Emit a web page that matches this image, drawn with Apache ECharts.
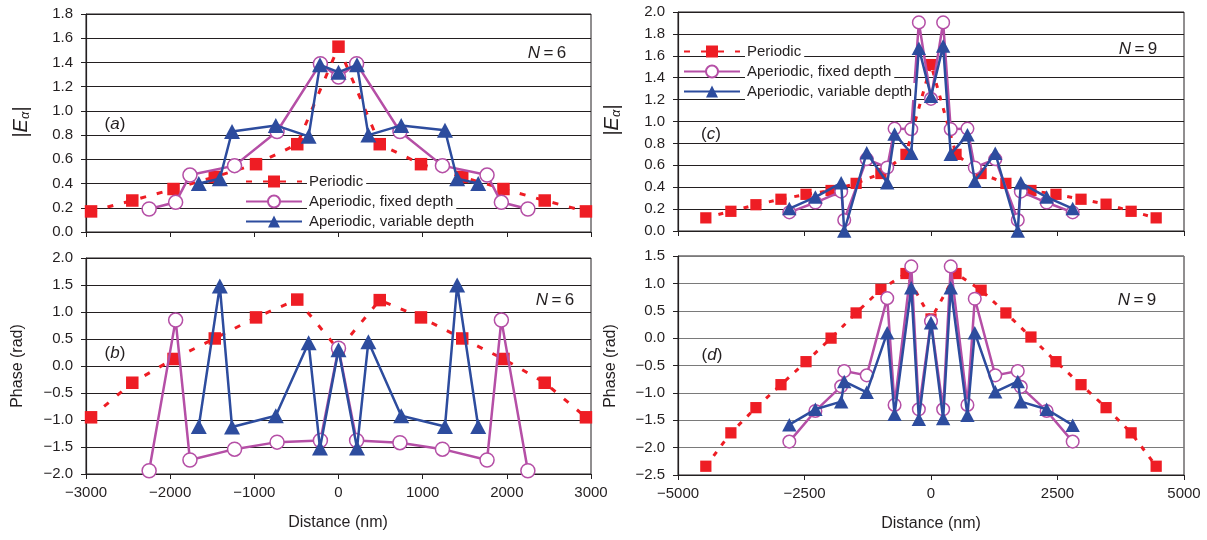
<!DOCTYPE html>
<html>
<head>
<meta charset="utf-8">
<script src="https://cdn.jsdelivr.net/npm/echarts@6/dist/echarts.min.js"></script>
<style>html,body{margin:0;padding:0;background:#fff}#c{width:1207px;height:540px}</style>
</head>
<body>
<div id="c"></div>
<script>
// ---------- DATA ----------
const seriesNames = ['Periodic', 'Aperiodic, fixed depth', 'Aperiodic, variable depth'];

// N = 6
const periodicX6 = [-2940, -2450, -1960, -1470, -980, -490, 0, 490, 980, 1470, 1960, 2450, 2940];
const periodicAmp6 = [0.17, 0.26, 0.355, 0.455, 0.56, 0.725, 1.53, 0.725, 0.56, 0.455, 0.355, 0.26, 0.17];
const periodicPhase6 = [-0.95, -0.31, 0.13, 0.51, 0.90, 1.23, 0.30, 1.22, 0.90, 0.51, 0.13, -0.31, -0.95];

const fixedX6 = [-2250, -1935, -1765, -1235, -730, -215, 0, 215, 730, 1235, 1765, 1935, 2250];
const fixedAmp6 = [0.19, 0.245, 0.47, 0.548, 0.83, 1.39, 1.28, 1.39, 0.83, 0.548, 0.47, 0.245, 0.19];
const fixedPhase6 = [-1.94, 0.85, -1.74, -1.54, -1.41, -1.38, 0.33, -1.38, -1.42, -1.54, -1.74, 0.85, -1.94];

const varX6 = [-1660, -1410, -1265, -745, -355, -220, 0, 220, 355, 745, 1265, 1410, 1660];
const varAmp6 = [0.40, 0.44, 0.83, 0.88, 0.79, 1.38, 1.32, 1.38, 0.80, 0.88, 0.84, 0.44, 0.40];
const varPhase6 = [-1.12, 1.48, -1.13, -0.92, 0.43, -1.52, 0.30, -1.52, 0.45, -0.92, -1.12, 1.50, -1.12];

// N = 9
const periodicX9 = [-4450, -3955, -3460, -2965, -2470, -1975, -1480, -990, -495, 0, 495, 990, 1480, 1975, 2470, 2965, 3460, 3955, 4450];
const periodicAmp9 = [0.12, 0.18, 0.24, 0.29, 0.335, 0.37, 0.435, 0.525, 0.70, 1.52, 0.70, 0.525, 0.435, 0.37, 0.335, 0.29, 0.245, 0.18, 0.12];
const periodicPhase9 = [-2.34, -1.73, -1.27, -0.85, -0.43, 0.0, 0.46, 0.89, 1.18, 0.35, 1.18, 0.875, 0.46, 0.02, -0.43, -0.85, -1.27, -1.73, -2.34];

const fixedX9 = [-2800, -2285, -1775, -1715, -1270, -865, -720, -390, -240, 0, 240, 390, 720, 865, 1270, 1715, 1775, 2285, 2800];
const fixedAmp9 = [0.17, 0.26, 0.36, 0.10, 0.656, 0.58, 0.935, 0.93, 1.905, 1.207, 1.905, 0.93, 0.935, 0.58, 0.656, 0.10, 0.36, 0.26, 0.17];
const fixedPhase9 = [-1.89, -1.33, -0.88, -0.60, -0.68, 0.73, -1.22, 1.31, -1.30, 0.31, -1.30, 1.31, -1.22, 0.72, -0.68, -0.60, -0.89, -1.33, -1.89];

const varX9 = [-2800, -2285, -1775, -1715, -1270, -865, -720, -390, -240, 0, 240, 390, 720, 865, 1270, 1715, 1775, 2285, 2800];
const varAmp9 = [0.205, 0.31, 0.44, 0.0, 0.715, 0.44, 0.885, 0.71, 1.67, 1.23, 1.69, 0.70, 0.88, 0.455, 0.71, 0.0, 0.44, 0.31, 0.205];
const varPhase9 = [-1.58, -1.30, -1.16, -0.79, -0.99, 0.10, -1.39, 0.92, -1.48, 0.28, -1.47, 0.92, -1.41, 0.10, -0.98, -0.79, -1.16, -1.30, -1.59];

// axis ranges / tick labels
const xRange6 = {min: -3000, max: 3000, interval: 1000};
const xRange9 = {min: -5000, max: 5000, interval: 2500};
const yRangeA = {min: 0, max: 1.8, interval: 0.2};
const yRangeB = {min: -2, max: 2, interval: 0.5};
const yRangeC = {min: 0, max: 2, interval: 0.2};
const yRangeD = {min: -2.5, max: 1.5, interval: 0.5};

// ---------- BUILD ----------
const FONT = '"Liberation Sans", Arial, Helvetica, sans-serif';
const RED = '#ee1d24', PINK = '#b54fa6', BLUE = '#2d4c9e', INK = '#231f20';
const minus = s => String(s).replace(/-/g, '\u2212');
const pairs = (xs, ys) => xs.map((x, i) => [x, ys[i]]);

const grids = [
  {left: 86, top: 14, width: 505, height: 218},
  {left: 86, top: 258, width: 505, height: 216},
  {left: 678, top: 12, width: 506, height: 219},
  {left: 678, top: 256, width: 506, height: 219}
].map(g => Object.assign({show: true, borderColor: INK, borderWidth: 1, backgroundColor: 'transparent'}, g));

function xAxis(idx, r, labels) {
  return {
    type: 'value', gridIndex: idx, min: r.min, max: r.max, interval: r.interval,
    axisLine: {show: true, onZero: false, lineStyle: {color: INK, width: 1.2}},
    axisTick: {show: true, inside: false, length: 5, lineStyle: {color: INK}},
    axisLabel: {show: labels, margin: 11, fontSize: 15, color: INK, fontFamily: FONT, formatter: v => minus(v)},
    splitLine: {show: false}
  };
}
function yAxis(idx, r, gridColor) {
  return {
    type: 'value', gridIndex: idx, min: r.min, max: r.max, interval: r.interval,
    axisLine: {show: true, onZero: false, lineStyle: {color: INK, width: 1.2}},
    axisTick: {show: true, inside: false, length: 5, lineStyle: {color: INK}},
    axisLabel: {show: true, margin: 13, fontSize: 15, color: INK, fontFamily: FONT, formatter: v => minus(v.toFixed(1))},
    splitLine: {show: true, lineStyle: {color: gridColor, width: 1}}
  };
}

function makeSeries(idx, big, pX, pY, fX, fY, vX, vY) {
  const k = big ? 1 : 0.9;
  return [
    {
      name: seriesNames[0], type: 'line', xAxisIndex: idx, yAxisIndex: idx,
      data: pairs(pX, pY), symbol: 'rect', symbolSize: 12.5 * k,
      itemStyle: {color: RED},
      lineStyle: {color: RED, width: 3, type: big ? [6, 11] : [5, 8]},
      z: 2
    },
    {
      name: seriesNames[1], type: 'line', xAxisIndex: idx, yAxisIndex: idx,
      data: pairs(fX, fY), symbol: 'circle', symbolSize: 14 * k,
      itemStyle: {color: '#fff', borderColor: PINK, borderWidth: 1.5},
      lineStyle: {color: PINK, width: 2.5},
      z: 3
    },
    {
      name: seriesNames[2], type: 'line', xAxisIndex: idx, yAxisIndex: idx,
      data: pairs(vX, vY), symbol: 'triangle', symbolSize: [16 * k, 15 * k],
      itemStyle: {color: BLUE},
      lineStyle: {color: BLUE, width: 2.5},
      z: 4
    }
  ];
}

const series = [].concat(
  makeSeries(0, true, periodicX6, periodicAmp6, fixedX6, fixedAmp6, varX6, varAmp6),
  makeSeries(1, true, periodicX6, periodicPhase6, fixedX6, fixedPhase6, varX6, varPhase6),
  makeSeries(2, false, periodicX9, periodicAmp9, fixedX9, fixedAmp9, varX9, varAmp9),
  makeSeries(3, false, periodicX9, periodicPhase9, fixedX9, fixedPhase9, varX9, varPhase9)
).map(s => Object.assign(s, {animation: false, silent: true, showAllSymbol: true}));

function legend(left, top) {
  return {
    orient: 'vertical', left: left, top: top, padding: 0, itemGap: 3, itemWidth: 56, itemHeight: 15,
    data: seriesNames, selectedMode: false,
    textStyle: {fontSize: 15, color: INK, fontFamily: FONT, backgroundColor: '#fff', padding: [1, 3, 1, 2]}
  };
}

const italicRich = {
  i: {fontStyle: 'italic', fontSize: 17, fontFamily: FONT, fill: INK, color: INK},
  n: {fontSize: 17, fontFamily: FONT, fill: INK, color: INK}
};
function txt(x, y, text, opts) {
  return {
    type: 'text', x: x, y: y, silent: true, z: 50,
    style: Object.assign({text: text, font: '16px ' + FONT, fill: INK, align: 'center', verticalAlign: 'middle', rich: italicRich}, opts || {})
  };
}
const ampRich = {
  b: {fontSize: 20, fontFamily: FONT, color: INK, fill: INK},
  e: {fontSize: 20, fontStyle: 'italic', fontFamily: FONT, color: INK, fill: INK},
  s: {fontSize: 13, fontStyle: 'italic', fontFamily: FONT, color: INK, fill: INK, verticalAlign: 'bottom', padding: [8, 0, 0, 0]}
};
function rotated(x, y, text, rich, size) {
  return {
    type: 'text', x: x, y: y, rotation: Math.PI / 2, silent: true, z: 50,
    style: {text: text, rich: rich, font: size + 'px ' + FONT, fill: INK, align: 'center', verticalAlign: 'middle'}
  };
}

const graphic = [
  rotated(21, 122, '{b||}{e|E}{s|α}{b||}', ampRich, 20),
  rotated(612, 120, '{b||}{e|E}{s|α}{b||}', ampRich, 20),
  rotated(18, 366, 'Phase (rad)', null, 16),
  rotated(611, 366, 'Phase (rad)', null, 16),
  txt(115, 124, '{n|(}{i|a}{n|)}'),
  txt(115, 353, '{n|(}{i|b}{n|)}'),
  txt(711, 134, '{n|(}{i|c}{n|)}'),
  txt(712, 355, '{n|(}{i|d}{n|)}'),
  txt(547, 53, '{i|N}{n|\u2009=\u20096}'),
  txt(555, 300, '{i|N}{n|\u2009=\u20096}'),
  txt(1138, 49, '{i|N}{n|\u2009=\u20099}'),
  txt(1137, 300, '{i|N}{n|\u2009=\u20099}'),
  txt(338, 523, 'Distance (nm)'),
  txt(931, 524, 'Distance (nm)')
];

const option = {
  animation: false,
  backgroundColor: '#fff',
  textStyle: {fontFamily: FONT},
  grid: grids,
  xAxis: [xAxis(0, xRange6, false), xAxis(1, xRange6, true), xAxis(2, xRange9, false), xAxis(3, xRange9, true)],
  yAxis: [yAxis(0, yRangeA, INK), yAxis(1, yRangeB, INK), yAxis(2, yRangeC, INK), yAxis(3, yRangeD, '#7a7a7a')],
  legend: [legend(245, 173), legend(683, 43)],
  series: series,
  graphic: graphic
};

const chart = echarts.init(document.getElementById('c'), null, {renderer: 'canvas'});
chart.setOption(option);
</script>
</body>
</html>
